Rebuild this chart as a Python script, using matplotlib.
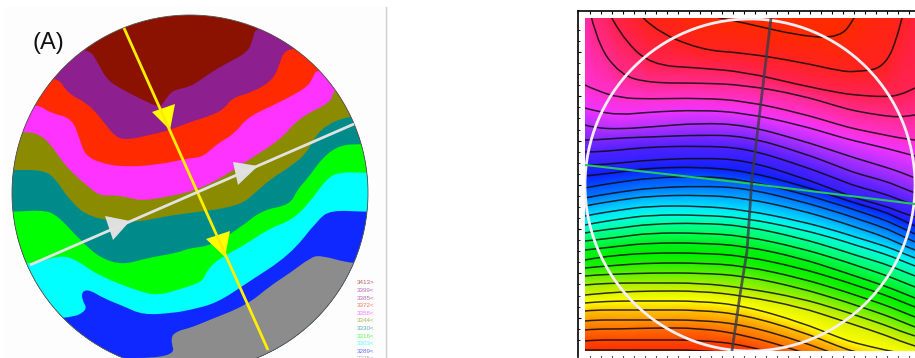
"""Two contour maps side by side: banded disc (A) and smooth field with contour lines."""

import matplotlib
matplotlib.use("Agg")
import matplotlib.pyplot as plt
import numpy as np
from matplotlib.colors import LinearSegmentedColormap
from matplotlib.patches import Circle, Ellipse, PathPatch, Polygon, Rectangle
from matplotlib.path import Path

# ---- left panel: boundaries between bands (image pixels), top to bottom
B_PURPLE = [(88, 47), (98, 63), (107, 80), (123, 90), (143, 100), (160, 108), (165, 100), (173, 90),
            (190, 87), (203, 78), (223, 65), (247, 53), (253, 40), (255, 27)]
B_RED = [(57, 75), (67, 93), (87, 103), (100, 117), (115, 137), (127, 140), (150, 135), (170, 130),
         (190, 122), (213, 115), (225, 108), (232, 98), (253, 92), (273, 80), (280, 63), (283, 53), (292, 48)]
B_MAGENTA = [(36, 103), (50, 113), (72, 118), (80, 140), (85, 155), (100, 163), (123, 167), (157, 165),
             (190, 158), (203, 157), (218, 143), (233, 135), (248, 117), (270, 107), (307, 88), (313, 77), (317, 69)]
B_OLIVE = [(22, 132), (37, 133), (50, 143), (63, 163), (78, 178), (90, 188), (100, 196), (120, 195),
           (140, 201), (167, 197), (197, 190), (223, 177), (253, 157), (280, 140), (300, 117), (330, 103),
           (333, 93), (336, 90)]
B_TEAL = [(13, 170), (43, 170), (55, 178), (70, 201), (90, 218), (133, 223), (167, 216), (190, 213),
          (240, 206), (257, 191), (272, 178), (290, 167), (307, 153), (320, 128), (350, 115)]
B_GREEN = [(13, 212), (43, 210), (57, 215), (80, 240), (100, 258), (123, 265), (147, 258), (177, 253),
           (190, 248), (210, 246), (240, 228), (262, 210), (290, 205), (297, 190), (308, 178), (323, 157),
           (340, 145), (362, 144)]
B_CYAN = [(30, 265), (60, 255), (77, 260), (97, 275), (143, 293), (160, 295), (177, 290), (190, 286),
          (203, 281), (207, 270), (220, 258), (243, 246), (270, 228), (290, 221), (307, 206), (327, 178),
          (340, 172), (367, 173)]
B_BLUE = [(70, 319), (88, 310), (82, 300), (82, 291), (90, 290), (103, 298), (123, 306), (143, 315),
          (173, 313), (190, 310), (217, 303), (247, 283), (290, 255), (317, 221), (330, 210), (367, 212)]
B_GRAY = [(176, 358), (170, 338), (177, 331), (190, 328), (207, 321), (247, 305), (270, 286), (290, 273),
          (310, 258), (320, 255), (352, 264)]

BOUNDARIES = [B_PURPLE, B_RED, B_MAGENTA, B_OLIVE, B_TEAL, B_GREEN, B_CYAN, B_BLUE, B_GRAY]
BAND_COLORS = ['#8b1200', '#8e1f8e', '#ff2a00', '#ff33ff', '#8b8b00', '#008b8b',
               '#00ff00', '#00ffff', '#0f28ff', '#8c8c8c']

LEGEND_LABELS = ['3413>', '3399<', '3385<', '3372<', '3358<', '3344<', '3330<', '3316<', '3303<', '3289<', '3275<']
LEGEND_COLORS = ['#8b1200', '#8e1f8e', '#8e1f8e', '#ff2a00', '#ff33ff', '#8b8b00', '#008b8b',
                 '#00ff00', '#00ffff', '#0f28ff', '#8c8c8c']

YELLOW_LINE = [(124, 28), (268, 350)]
YELLOW_HEADS = [[(152, 112), (175, 104), (170, 130)], [(206, 239), (230, 231), (225, 257)]]
GRAY_LINE = [(30, 265), (354, 124)]
GRAY_HEADS = [[(105, 216), (130, 221), (113, 240)], [(233, 162), (258, 166), (238, 185)]]

# ---- right panel: contour curves, y in pixels at each station
STATIONS = [585, 595, 620, 650, 700, 745, 800, 840, 855, 885, 900, 915]
CURVES = [
    [-70, -60, -40, -20, 14, 23, 36, 38, 18, -40, -60, -80],
    [-60, -45, -10, 28, 50, 53, 62, 71, 72, 68, 30, -40],
    [-40, -15, 35, 65, 68, 72, 85, 93, 95, 97, 95, 88],
    [-10, 40, 75, 83, 83, 85, 95, 107, 111, 116, 117, 115],
    [85, 90, 98, 99, 98, 101, 113, 125, 129, 135, 138, 140],
    [108, 111, 115, 112, 110, 113, 125, 137, 141, 148, 152, 156],
    [125, 128, 129, 127, 123, 125, 140, 153, 158, 167, 172, 178],
    [140, 140, 138, 137, 135, 136, 152, 167, 173, 181, 187, 193],
    [152, 152, 150, 147, 146, 148, 165, 180, 186, 194, 200, 205],
    [165, 165, 163, 160, 158, 160, 177, 192, 198, 206, 212, 217],
    [176, 175, 172, 168, 167, 171, 185, 198, 203, 212, 219, 226],
    [188, 186, 182, 178, 176, 180, 193, 205, 210, 220, 227, 234],
    [198, 196, 192, 188, 186, 188, 201, 213, 218, 228, 235, 242],
    [206, 204, 200, 196, 195, 198, 210, 222, 227, 237, 244, 250],
    [216, 214, 210, 206, 206, 210, 221, 232, 237, 246, 252, 258],
    [225, 223, 219, 215, 215, 218, 229, 240, 245, 254, 260, 266],
    [233, 231, 228, 224, 223, 226, 238, 250, 255, 264, 270, 276],
    [241, 240, 237, 233, 233, 236, 248, 260, 265, 275, 281, 287],
    [250, 249, 246, 243, 243, 246, 258, 271, 276, 286, 292, 298],
    [260, 258, 255, 253, 253, 256, 268, 280, 285, 295, 301, 307],
    [268, 267, 265, 263, 263, 266, 278, 290, 295, 305, 311, 317],
    [276, 275, 274, 273, 273, 276, 288, 300, 305, 315, 321, 327],
    [285, 284, 283, 283, 283, 288, 298, 310, 315, 325, 331, 336],
    [295, 294, 292, 291, 291, 296, 307, 320, 325, 335, 341, 346],
    [303, 302, 301, 301, 301, 306, 322, 338, 343, 350, 353, 355],
    [311, 310, 310, 310, 310, 315, 331, 347, 352, 358, 361, 364],
    [321, 320, 320, 320, 320, 325, 341, 356, 361, 368, 371, 374],
    [330, 329, 329, 328, 328, 335, 351, 366, 371, 378, 381, 384],
    [341, 340, 340, 340, 340, 345, 361, 376, 381, 388, 391, 394],
    [350, 350, 350, 350, 350, 355, 371, 386, 391, 398, 401, 404],
]
LEVEL_COLORS = ['#ff2a00', '#ff2222', '#ff2255', '#ff2a90', '#ff30d0', '#f033ff', '#b030ff', '#8028ff',
                '#5020ff', '#3020ff', '#1020ff', '#0050ff', '#0078ff', '#00a8ff', '#00e0ff', '#00ffe0',
                '#00ffa0', '#00ff60', '#00f020', '#00f000', '#20f000', '#60f000', '#a0f000', '#d8f000',
                '#ffff00', '#ffc800', '#ff9800', '#ff7000', '#ff4800', '#ff3000']

GREEN_LINE = [(585, 165), (745, 183), (915, 204)]
DARK_LINE = [(771, 18), (766, 60), (752, 178), (747, 251), (740, 295), (732, 351)]

TICKS_TOP = [590, 601, 612, 623, 634, 645, 656, 667, 678, 689, 700, 711, 722, 733, 744, 755, 766, 777, 788, 799,
             810, 821, 832, 843, 854, 865, 876, 887, 898, 909]
TICKS_LEFT_MAJOR = [52, 96, 141, 185, 229, 273, 318]
TICKS_LEFT_MINOR = [30, 41, 63, 74, 85, 107, 118, 130, 152, 163, 174, 196, 207, 218, 240, 251, 262, 284, 296,
                    307, 329, 340]


def rounded_path(points, tail=()):
    """Path through the points with rounded corners; tail points are joined straight and closed."""
    verts = [points[0]]
    codes = [Path.MOVETO]
    for p, q in zip(points[1:-1], points[2:]):
        verts += [p, ((p[0] + q[0]) / 2, (p[1] + q[1]) / 2)]
        codes += [Path.CURVE3, Path.CURVE3]
    verts.append(points[-1])
    codes.append(Path.LINETO)
    for p in tail:
        verts.append(p)
        codes.append(Path.LINETO)
    if tail:
        verts.append(points[0])
        codes.append(Path.CLOSEPOLY)
    return Path(verts, codes)


def draw_left(ax):
    """Banded disc with the two arrowed sections."""
    ax.add_patch(Rectangle((4, 7), 382, 351, facecolor='#fdfdfd', edgecolor='none'))
    ax.plot([386, 386], [7, 358], color='#cfcfcf', lw=1)

    disc = Circle((190, 193), 178, transform=ax.transData)
    ax.add_patch(Circle((190, 193), 178, facecolor=BAND_COLORS[0], edgecolor='none'))

    # each band paints everything below its upper boundary
    for line, color in zip(BOUNDARIES, BAND_COLORS[1:]):
        pts = [(line[0][0] - 40, line[0][1])] + line + [(line[-1][0] + 40, line[-1][1])]
        tail = [(pts[-1][0], 420), (pts[0][0], 420)]
        band = PathPatch(rounded_path(pts, tail), facecolor=color, edgecolor='none')
        ax.add_patch(band)
        band.set_clip_path(disc)

    ax.add_patch(Circle((190, 193), 178, facecolor='none', edgecolor='#555555', lw=0.6))

    ax.plot(*zip(*YELLOW_LINE), color='#ffee00', lw=2, solid_capstyle='butt')
    for head in YELLOW_HEADS:
        ax.add_patch(Polygon(head, closed=True, facecolor='#ffff00', edgecolor='none'))
    ax.plot(*zip(*GRAY_LINE), color='#e2e2e2', lw=2, solid_capstyle='butt')
    for head in GRAY_HEADS:
        ax.add_patch(Polygon(head, closed=True, facecolor='#dfdfdf', edgecolor='none'))

    ax.text(32, 43, '(A)', fontsize=17, family='Liberation Sans', color='#111111', ha='left', va='center')

    for i, label in enumerate(LEGEND_LABELS):
        ax.text(357, 283 + i * 7.6, label, fontsize=4.5, family='Liberation Sans', ha='left', va='center',
                color=LEGEND_COLORS[i], alpha=0.65)


def draw_right(fig):
    """Smooth field: each curve carries its own colour, the mesh shades between them."""
    frame = fig.add_axes([577.5 / 915, 1 - 357 / 358, (916 - 577.5) / 915, (357 - 10.5) / 358])
    frame.set_xlim(577.5, 916)
    frame.set_ylim(357, 10.5)
    frame.patch.set_facecolor('white')
    frame.spines['right'].set_visible(False)
    frame.spines['bottom'].set_visible(False)
    for side in ('left', 'top'):
        frame.spines[side].set_linewidth(1.2)
    frame.xaxis.tick_top()
    frame.set_xticks(TICKS_TOP)
    frame.set_yticks(TICKS_LEFT_MAJOR)
    frame.set_yticks(TICKS_LEFT_MINOR, minor=True)
    frame.tick_params(axis='both', which='major', direction='in', length=2.5, width=0.8, labelleft=False, labeltop=False)
    frame.tick_params(axis='y', which='minor', direction='in', length=1.5, width=0.6)
    for x in TICKS_TOP:
        frame.plot([x, x], [355.5, 357], color='#555555', lw=0.8, clip_on=False)

    ax = fig.add_axes([585 / 915, 1 - 351 / 358, 330 / 915, 333 / 358])
    ax.set_xlim(585, 915)
    ax.set_ylim(351, 18)
    ax.axis('off')

    xs = np.array(STATIONS, dtype=float)
    curves = np.array(CURVES, dtype=float)

    # one extra row above and below so the mesh covers the whole panel
    rows = np.vstack([np.full(len(xs), -130.0), curves, np.full(len(xs), 430.0)])
    X = np.tile(xs, (rows.shape[0], 1))
    levels = np.concatenate([[0], np.arange(len(CURVES)), [len(CURVES) - 1]])
    C = np.tile(levels[:, None], (1, len(xs))).astype(float)
    cmap = LinearSegmentedColormap.from_list('field', LEVEL_COLORS, N=512)
    ax.pcolormesh(X, rows, C, shading='gouraud', cmap=cmap, vmin=0, vmax=len(CURVES) - 1)

    for row in CURVES:
        ax.add_patch(PathPatch(rounded_path(list(zip(STATIONS, row))), facecolor='none',
                               edgecolor='#0c0c0c', lw=1.1, alpha=0.85))

    ax.plot(*zip(*GREEN_LINE), color='#22c860', lw=1.5)
    ax.plot(*zip(*DARK_LINE), color='#3a3a48', lw=2, alpha=0.8)
    ax.add_patch(Ellipse((750, 185), 330, 332, facecolor='none', edgecolor='#f6eef4', lw=2))


def main():
    fig = plt.figure(figsize=(9.15, 3.58), dpi=100, facecolor='white')
    ax = fig.add_axes([0, 0, 1, 1])
    ax.set_xlim(0, 915)
    ax.set_ylim(358, 0)
    ax.axis('off')

    draw_left(ax)
    draw_right(fig)

    fig.savefig('out.png', dpi=100)


if __name__ == "__main__":
    main()
